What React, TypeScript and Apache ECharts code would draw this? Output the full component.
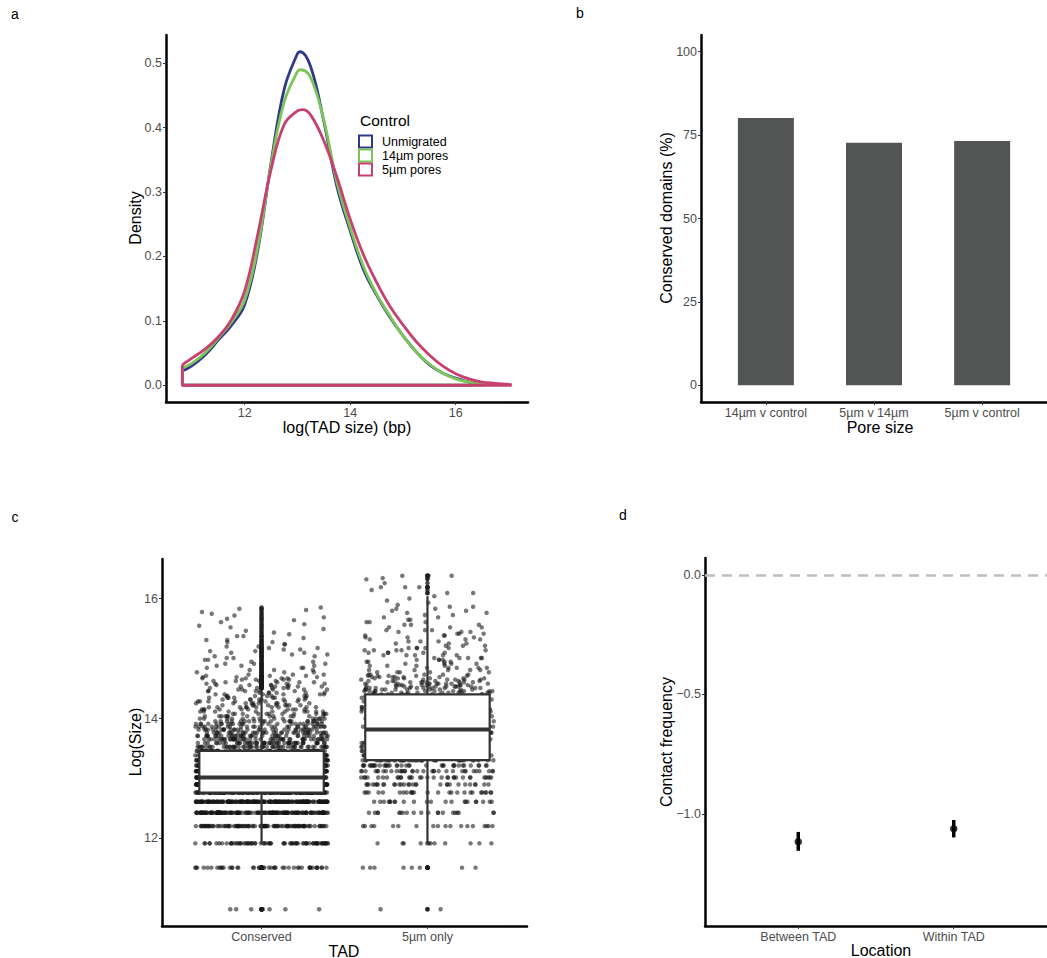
import React, { useEffect, useRef } from "react";
import * as echarts from "echarts";

const FONT = "'Liberation Sans', Arial, Helvetica, sans-serif";

// ---------- Panel a: density of log(TAD size) ----------
const densityGroups = ["Unmigrated", "14µm pores", "5µm pores"];
const densityColors = ["#2E3A87", "#7CC558", "#C8406E"];
const unmigratedX = [10.82, 11.0, 11.25, 11.5, 11.75, 12.0, 12.25, 12.5, 12.75, 13.0, 13.05, 13.25, 13.5, 13.75, 14.0, 14.25, 14.5, 14.75, 15.0, 15.25, 15.5, 15.75, 16.0, 16.25, 16.35];
const unmigratedY = [0.022, 0.030, 0.047, 0.070, 0.093, 0.125, 0.21, 0.345, 0.46, 0.515, 0.518, 0.495, 0.41, 0.308, 0.24, 0.18, 0.14, 0.106, 0.077, 0.052, 0.032, 0.019, 0.011, 0.005, 0.003];
const pores14X = [10.82, 11.0, 11.25, 11.5, 11.75, 12.0, 12.25, 12.5, 12.75, 13.0, 13.06, 13.25, 13.5, 13.75, 14.0, 14.25, 14.5, 14.75, 15.0, 15.25, 15.5, 15.75, 16.0, 16.25, 16.55];
const pores14Y = [0.027, 0.034, 0.050, 0.073, 0.098, 0.132, 0.215, 0.342, 0.44, 0.487, 0.49, 0.478, 0.412, 0.315, 0.245, 0.185, 0.142, 0.108, 0.077, 0.052, 0.033, 0.019, 0.010, 0.005, 0.002];
const pores5X = [10.82, 11.0, 11.25, 11.5, 11.75, 12.0, 12.25, 12.5, 12.75, 13.0, 13.1, 13.25, 13.5, 13.75, 14.0, 14.25, 14.5, 14.75, 15.0, 15.25, 15.5, 15.75, 16.0, 16.25, 16.5, 16.75, 17.06];
const pores5Y = [0.032, 0.042, 0.056, 0.075, 0.102, 0.146, 0.235, 0.335, 0.405, 0.426, 0.428, 0.42, 0.38, 0.323, 0.258, 0.203, 0.16, 0.123, 0.094, 0.068, 0.047, 0.030, 0.018, 0.010, 0.005, 0.003, 0.001];
const densityXTicks = [12, 14, 16];
const densityYTicks = [0, 0.1, 0.2, 0.3, 0.4, 0.5];

// ---------- Panel b: conserved domains ----------
const poreCategories = ["14µm v control", "5µm v 14µm", "5µm v control"];
const conservedPct = [80.1, 72.7, 73.2];
const pctTicks = [0, 25, 50, 75, 100];

// ---------- Panel c: TAD sizes (multiples of a 50 kb bin) ----------
const BIN_BP = 50000;
const tadGroups = ["Conserved", "5µm only"];
const conservedK = [1, 2, 3, 4, 5, 6, 7, 8, 9, 10, 11, 12, 13, 14, 15, 16, 17, 18, 19, 20, 21, 22, 23,
  24, 25, 26, 27, 28, 29, 30, 31, 32, 33, 34, 35, 36, 37, 38, 39,
  40, 41, 42, 43, 44, 45, 46, 47, 48, 49, 50, 52, 54, 56, 58, 60, 62, 64,
  66, 68, 70, 72, 74, 76, 78, 80, 83, 86, 89, 92, 95, 98, 101, 104, 107,
  110, 113, 116, 120, 124, 127, 130, 134, 138, 142, 147, 150, 153];
const conservedN = [7, 45, 70, 100, 150, 180, 200, 230, 220, 180, 150, 110, 85, 80, 55, 50, 45, 40, 36, 32, 28, 25, 22,
  14, 13, 12, 11, 10, 10, 9, 9, 8, 8, 7, 7, 6, 6, 6, 5,
  5, 5, 5, 4, 4, 4, 4, 4, 3, 3, 3, 3, 3, 3, 3, 3, 2, 2,
  2, 2, 2, 2, 2, 2, 2, 2, 2, 2, 2, 1, 2, 1, 1, 1, 1,
  1, 1, 1, 1, 1, 1, 1, 1, 1, 1, 1, 1, 1];
const only5K = [1, 2, 3, 4, 5, 6, 7, 8, 9, 10, 11, 12, 13, 14, 15, 16, 17, 18, 19, 20, 21, 22, 23, 24, 25, 26, 27, 28, 29, 30, 31, 32, 33, 34, 35, 36,
  37, 38, 39, 40, 41, 42, 43, 44, 45, 46, 47, 48, 49, 50, 52, 54, 56, 58, 60, 62, 64,
  66, 69, 72, 75, 78, 81, 84, 87, 90, 93, 96, 99, 102, 105,
  110, 115, 120, 125, 130, 135, 140, 145, 150, 155, 160, 166, 172, 178, 185,
  195, 205, 215, 230, 245, 250, 260];
const only5N = [2, 8, 12, 18, 20, 22, 26, 30, 32, 34, 36, 40, 36, 34, 32, 30, 28, 26, 23, 22, 21, 20, 19, 18, 17, 16, 16, 15, 14, 14, 12, 11, 11, 10, 9, 11,
  11, 11, 10, 10, 10, 9, 9, 8, 6, 6, 6, 6, 5, 5, 5, 5, 5, 4, 4, 4, 4,
  5, 5, 5, 5, 5, 3, 3, 3, 3, 3, 3, 3, 3, 3,
  3, 3, 3, 2, 2, 2, 2, 2, 2, 2, 1, 1, 1, 1, 1,
  2, 1, 3, 1, 1, 1, 3];
const sizeTicks = [12, 14, 16];

// ---------- Panel d: contact frequency ----------
const locations = ["Between TAD", "Within TAD"];
const contactMean = [-1.117, -1.063];
const contactLow = [-1.155, -1.099];
const contactHigh = [-1.076, -1.026];
const contactTicks = [-1, -0.5, 0];

function expandSizes(ks: number[], ns: number[]): number[] {
  const out: number[] = [];
  ks.forEach((k, i) => {
    for (let j = 0; j < ns[i]; j++) out.push(Math.log(k * BIN_BP));
  });
  return out;
}
function quantile(sorted: number[], p: number) {
  const h = (sorted.length - 1) * p;
  const lo = Math.floor(h), hi = Math.ceil(h);
  return sorted[lo] + (h - lo) * (sorted[hi] - sorted[lo]);
}
function boxStats(values: number[]) {
  const s = [...values].sort((a, b) => a - b);
  const q1 = quantile(s, 0.25), med = quantile(s, 0.5), q3 = quantile(s, 0.75);
  const iqr = q3 - q1;
  const loF = q1 - 1.5 * iqr, hiF = q3 + 1.5 * iqr;
  const inside = s.filter((v) => v >= loF && v <= hiF);
  const outliers = s.filter((v) => v < loF || v > hiF);
  return { lo: inside[0], q1, med, q3, hi: inside[inside.length - 1], outliers };
}
// deterministic horizontal jitter offset (layout only, like geom_jitter)
function jitter01(n: number) {
  let h = Math.imul(n ^ 0x9e3779b9, 0x85ebca6b);
  h = Math.imul(h ^ (h >>> 13), 0xc2b2ae35);
  h = h ^ (h >>> 16);
  return (h >>> 0) / 4294967296;
}

const axisBase = (gridIndex: number, min: number, max: number, ticks: number[], fmt: (v: number) => string) => ({
  type: "value",
  gridIndex,
  min,
  max,
  splitLine: { show: false },
  axisLine: { show: true, onZero: false, lineStyle: { color: "#000", width: 2.5 } },
  axisTick: { show: true, length: 3, lineStyle: { color: "#333", width: 1 }, customValues: ticks },
  axisLabel: { customValues: ticks, formatter: fmt, color: "#4D4D4D", fontSize: 12.5, fontFamily: FONT, margin: 4 },
});

const txt = (text: string, x: number, y: number, size: number, opts: any = {}) => ({
  type: "text",
  x,
  y,
  rotation: opts.rotation || 0,
  silent: true,
  style: {
    text,
    fill: opts.fill || "#000",
    font: `${size}px ${FONT}`,
    align: opts.align || "center",
    verticalAlign: "middle",
  },
});

export default function App() {
  const ref = useRef<HTMLDivElement>(null);
  useEffect(() => {
    if (!ref.current) return;
    const chart = echarts.init(ref.current, undefined, { renderer: "svg" });

    const densX = [unmigratedX, pores14X, pores5X];
    const densY = [unmigratedY, pores14Y, pores5Y];
    const densitySeries: any[] = [];
    densX.forEach((xs, g) => {
      const ys = densY[g];
      const color = densityColors[g];
      densitySeries.push({
        type: "line", name: densityGroups[g], xAxisIndex: 0, yAxisIndex: 0,
        data: xs.map((x, i) => [x, ys[i]]), smooth: 0.4, showSymbol: false, symbol: "none",
        lineStyle: { color, width: 2.8 }, z: 2 + g,
      });
      densitySeries.push({
        type: "line", xAxisIndex: 0, yAxisIndex: 0,
        data: [[xs[xs.length - 1], 0], [xs[0], 0], [xs[0], ys[0]]], showSymbol: false, symbol: "none",
        lineStyle: { color, width: 2.8 }, z: 2 + g,
      });
    });

    // Panel c data
    const groupsVals = [expandSizes(conservedK, conservedN), expandSizes(only5K, only5N)];
    const jitterPts: number[][] = [];
    const outlierPts: number[][] = [];
    const boxData: number[][] = [];
    groupsVals.forEach((vals, g) => {
      const cx = g + 1;
      vals.forEach((v, i) => {
        const u = jitter01(i + g * 100003 + 17);
        jitterPts.push([cx + (u * 2 - 1) * 0.4, v]);
      });
      const st = boxStats(vals);
      boxData.push([cx, st.lo, st.q1, st.med, st.q3, st.hi]);
      st.outliers.forEach((v) => outlierPts.push([cx, v]));
    });

    const legendGraphics: any[] = [txt("Control", 360, 120, 15.5, { align: "left" })];
    densityGroups.forEach((name, g) => {
      const cy = 141.5 + g * 14;
      legendGraphics.push({
        type: "rect", silent: true,
        shape: { x: 359, y: cy - 6, width: 13, height: 12 },
        style: { fill: "#fff", stroke: densityColors[g], lineWidth: 2 },
      });
      legendGraphics.push(txt(name, 382, cy, 12.5, { align: "left" }));
    });

    const option: any = {
      animation: false,
      backgroundColor: "#fff",
      grid: [
        { left: 166, top: 35, width: 362, height: 367 },
        { left: 701, top: 35, width: 357, height: 367 },
        { left: 162, top: 559, width: 365, height: 367 },
        { left: 705, top: 558, width: 352, height: 368 },
      ],
      xAxis: [
        axisBase(0, 10.51, 17.37, densityXTicks, (v) => String(v)),
        axisBase(1, 0.4, 3.6, [1, 2, 3], (v) => poreCategories[Math.round(v) - 1]),
        axisBase(2, 0.4, 2.6, [1, 2], (v) => tadGroups[Math.round(v) - 1]),
        axisBase(3, 0.4, 2.6, [1, 2], (v) => locations[Math.round(v) - 1]),
      ],
      yAxis: [
        axisBase(0, -0.026, 0.544, densityYTicks, (v) => v.toFixed(1)),
        axisBase(1, -5, 105, pctTicks, (v) => String(v)),
        axisBase(2, 10.54, 16.66, sizeTicks, (v) => String(v)),
        axisBase(3, -1.47, 0.071, contactTicks, (v) => (v < 0 ? "\u2212" : "") + Math.abs(v).toFixed(1)),
      ],
      series: [
        ...densitySeries,
        {
          type: "bar", xAxisIndex: 1, yAxisIndex: 1,
          data: conservedPct.map((v, i) => [i + 1, v]),
          barWidth: 56, itemStyle: { color: "#535554" },
        },
        {
          type: "scatter", xAxisIndex: 2, yAxisIndex: 2, data: jitterPts,
          symbolSize: 4.5, itemStyle: { color: "rgba(20,20,20,0.72)" },
          progressive: 0, large: false, z: 2, silent: true,
        },
        {
          type: "custom", xAxisIndex: 2, yAxisIndex: 2, data: boxData, z: 3, silent: true,
          encode: { x: 0, y: [1, 2, 3, 4, 5] },
          renderItem: (params: any, api: any) => {
            const x = api.value(0);
            const cx = api.coord([x, api.value(3)])[0];
            const yLo = api.coord([x, api.value(1)])[1];
            const yQ1 = api.coord([x, api.value(2)])[1];
            const yMed = api.coord([x, api.value(3)])[1];
            const yQ3 = api.coord([x, api.value(4)])[1];
            const yHi = api.coord([x, api.value(5)])[1];
            const hw = api.size([0.375, 0])[0];
            const st = { stroke: "#333", lineWidth: 2.2 };
            return {
              type: "group",
              children: [
                { type: "line", shape: { x1: cx, y1: yHi, x2: cx, y2: yQ3 }, style: st },
                { type: "line", shape: { x1: cx, y1: yQ1, x2: cx, y2: yLo }, style: st },
                { type: "rect", shape: { x: cx - hw, y: yQ3, width: 2 * hw, height: yQ1 - yQ3 }, style: { fill: "#fff", ...st } },
                { type: "line", shape: { x1: cx - hw, y1: yMed, x2: cx + hw, y2: yMed }, style: { stroke: "#333", lineWidth: 4 } },
              ],
            };
          },
        },
        {
          type: "scatter", xAxisIndex: 2, yAxisIndex: 2, data: outlierPts,
          symbolSize: 4.5, itemStyle: { color: "#1a1a1a" }, z: 4, silent: true,
        },
        {
          type: "custom", xAxisIndex: 3, yAxisIndex: 3, silent: true, z: 3,
          data: locations.map((_, i) => [i + 1, contactLow[i], contactHigh[i]]),
          encode: { x: 0, y: [1, 2] },
          renderItem: (params: any, api: any) => {
            const p1 = api.coord([api.value(0), api.value(1)]);
            const p2 = api.coord([api.value(0), api.value(2)]);
            return { type: "line", shape: { x1: p1[0], y1: p1[1], x2: p2[0], y2: p2[1] }, style: { stroke: "#000", lineWidth: 3.5 } };
          },
        },
        {
          type: "scatter", xAxisIndex: 3, yAxisIndex: 3, silent: true, z: 4,
          data: contactMean.map((v, i) => [i + 1, v]),
          symbolSize: 7.5, itemStyle: { color: "#000" },
          markLine: {
            silent: true, symbol: "none", label: { show: false },
            lineStyle: { type: [10, 7], color: "#BEBEBE", width: 2.5 },
            data: [{ yAxis: 0 }],
          },
        },
      ],
      graphic: [
        txt("a", 15, 14, 14),
        txt("b", 580, 13, 14),
        txt("c", 15, 517, 14),
        txt("d", 623, 515, 14),
        txt("log(TAD size) (bp)", 347, 427, 16),
        txt("Density", 135, 218, 16, { rotation: Math.PI / 2 }),
        txt("Pore size", 880, 427, 16),
        txt("Conserved domains (%)", 666, 218, 16, { rotation: Math.PI / 2 }),
        txt("TAD", 344, 951, 16),
        txt("Log(Size)", 135, 742, 16, { rotation: Math.PI / 2 }),
        txt("Location", 881, 950, 16),
        txt("Contact frequency", 666, 742, 16, { rotation: Math.PI / 2 }),
        ...legendGraphics,
      ],
    };
    chart.setOption(option);
    return () => chart.dispose();
  }, []);
  return <div ref={ref} style={{ position: "absolute", left: 0, top: 0, width: 1047, height: 958 }} />;
}
